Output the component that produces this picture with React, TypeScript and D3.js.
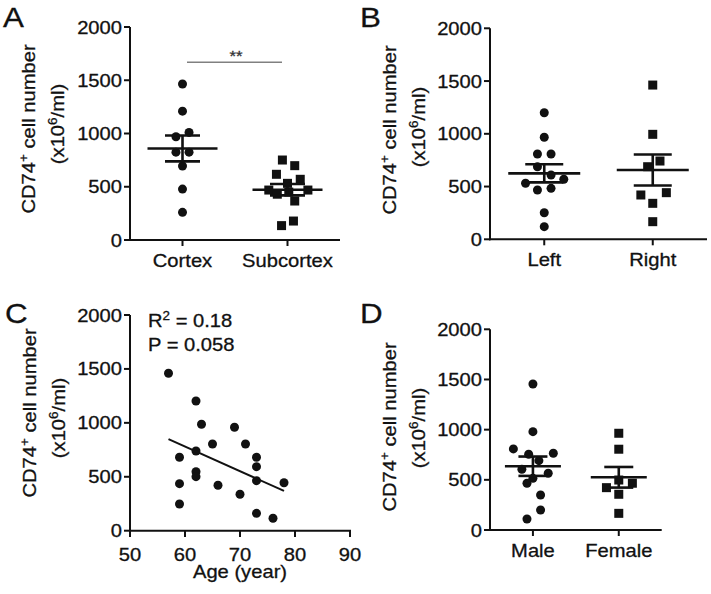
import React from 'react';
import * as d3 from 'd3';

const FONT = '"Liberation Sans", Arial, Helvetica, sans-serif';
const INK = '#111';

// ---------- data ----------
const yTicks = [0, 500, 1000, 1500, 2000];
const ageTicks = [50, 60, 70, 80, 90];

const regionCategories = ['Cortex', 'Subcortex'];
const cortexValues = [1465, 1210, 970, 1010, 825, 825, 695, 478, 260];
const cortexOffsets = [0, 0, -0.77, 0.77, -0.77, 0.77, 0, 0, 0];
const subcortexValues = [751, 698, 617, 570, 532, 469, 430, 450, 469, 366, 178, 135];
const subcortexOffsets = [-0.6, 0.85, -1.3, 1.5, 0, -2.2, -1.2, 0.15, 2.4, 0.85, 0.7, -0.7];

const sideCategories = ['Left', 'Right'];
const leftValues = [1200, 967, 808, 808, 688, 609, 531, 569, 467, 483, 252, 120];
const leftOffsets = [0, 0, -0.8, 0.8, -0.8, 0.8, -2.2, 2.3, -0.8, 0.8, 0, 0];
const rightValues = [1462, 995, 742, 688, 420, 442, 341, 167];
const rightOffsets = [0, 0, 0.85, -0.6, -1.4, 1.6, 0, 0];

const sexCategories = ['Male', 'Female'];
const maleValues = [1455, 980, 808, 755, 765, 691, 605, 565, 515, 466, 349, 199, 110];
const maleOffsets = [0, 0, -2.3, -0.5, 2.4, 0.7, -1.3, 1.8, 0, -0.7, 0.9, 0.9, -0.7];
const femaleValues = [964, 805, 498, 466, 422, 356, 166];
const femaleOffsets = [0, 0, 0, 1.6, -1.45, 0, 0];

const ages = [57, 62, 63, 69, 65, 71, 59, 62, 73, 73, 62, 62, 73, 78, 59, 66, 70, 59, 73, 76];
const ageCells = [1460, 1203, 987, 959, 804, 804, 681, 739, 681, 594, 547, 501, 464, 445, 436, 421, 338, 248, 161, 115];

const SYM = 9;
const SX = 1.12;

function T({ x, y, size = 18, anchor = 'start', rot = 0, fill = INK, children }: any) {
  return (
    <text
      transform={`translate(${x},${y}) rotate(${rot}) scale(${SX},1)`}
      fontSize={size}
      textAnchor={anchor}
      fill={fill}
      stroke={fill}
      strokeWidth={0.3}
      fontFamily={FONT}
    >
      {children}
    </text>
  );
}

function YTitle({ x1, c1, x2, c2 }: any) {
  return (
    <g>
      <T x={x1} y={c1} rot={-90} anchor="middle">
        CD74<tspan dy={-7} fontSize={12}>+</tspan>
        <tspan dy={7}> cell number</tspan>
      </T>
      <T x={x2} y={c2} rot={-90} anchor="middle">
        (x10<tspan dy={-7} fontSize={12}>6</tspan>
        <tspan dy={7}>/ml)</tspan>
      </T>
    </g>
  );
}

function YAxis({ y, x0 }: any) {
  const [r0, r1] = y.range();
  return (
    <g>
      <line x1={x0} x2={x0} y1={r0 + 1} y2={r1} stroke={INK} strokeWidth={2} />
      {yTicks.map((t) => (
        <g key={t}>
          <line x1={x0 - 6} x2={x0} y1={y(t)} y2={y(t)} stroke={INK} strokeWidth={2} />
          <T x={x0 - 8} y={y(t) + 6.5} anchor="end">{t}</T>
        </g>
      ))}
    </g>
  );
}

function Symbol({ cx, cy, shape }: any) {
  if (shape === 'square')
    return <rect x={cx - SYM / 2} y={cy - SYM / 2} width={SYM} height={SYM} fill={INK} />;
  return <circle cx={cx} cy={cy} r={SYM / 2} fill={INK} />;
}

function DotPanel({ cfg, cats, groups }: any) {
  const x = d3.scalePoint().domain(cats).range([cfg.x0, cfg.x1]).padding(0.5);
  const y = d3.scaleLinear().domain([0, 2000]).range([cfg.y0, cfg.yTop]);
  return (
    <g>
      <YAxis y={y} x0={cfg.x0} />
      <line x1={cfg.x0 - 1} x2={cfg.x1} y1={cfg.y0} y2={cfg.y0} stroke={INK} strokeWidth={2} />
      {cats.map((c: string) => (
        <g key={c}>
          <line x1={x(c)} x2={x(c)} y1={cfg.y0} y2={cfg.y0 + 6} stroke={INK} strokeWidth={2} />
          <T x={x(c)} y={cfg.y0 + 26.7} anchor="middle">{c}</T>
        </g>
      ))}
      {groups.map((g: any, gi: number) => {
        const cx = x(cats[gi]) as number;
        const m = d3.mean(g.values) as number;
        const sem = (d3.deviation(g.values) as number) / Math.sqrt(g.values.length);
        return (
          <g key={gi}>
            {g.values.map((v: number, i: number) => (
              <Symbol key={i} cx={cx + g.offsets[i] * 8.5} cy={y(v)} shape={g.shape} />
            ))}
            <line x1={cx - cfg.meanHalf} x2={cx + cfg.meanHalf} y1={y(m)} y2={y(m)} stroke={INK} strokeWidth={2.6} />
            <line x1={cx} x2={cx} y1={y(m + sem)} y2={y(m - sem)} stroke={INK} strokeWidth={2.6} />
            <line x1={cx - cfg.capHalf} x2={cx + cfg.capHalf} y1={y(m + sem)} y2={y(m + sem)} stroke={INK} strokeWidth={2.6} />
            <line x1={cx - cfg.capHalf} x2={cx + cfg.capHalf} y1={y(m - sem)} y2={y(m - sem)} stroke={INK} strokeWidth={2.6} />
          </g>
        );
      })}
    </g>
  );
}

function ScatterPanel() {
  const x = d3.scaleLinear().domain([50, 90]).range([130, 350]);
  const y = d3.scaleLinear().domain([0, 2000]).range([530.7, 315]);
  const mx = d3.mean(ages) as number;
  const my = d3.mean(ageCells) as number;
  const sxy = d3.sum(ages, (a, i) => (a - mx) * (ageCells[i] - my));
  const sxx = d3.sum(ages, (a) => (a - mx) * (a - mx));
  const slope = sxy / sxx;
  const fit = (a: number) => my + slope * (a - mx);
  const [amin, amax] = d3.extent(ages) as [number, number];
  const line = d3.line<number>().x((a) => x(a)).y((a) => y(fit(a)));
  return (
    <g>
      <YAxis y={y} x0={130} />
      <line x1={129} x2={351} y1={530.7} y2={530.7} stroke={INK} strokeWidth={2} />
      {ageTicks.map((t) => (
        <g key={t}>
          <line x1={x(t)} x2={x(t)} y1={530.7} y2={537} stroke={INK} strokeWidth={2} />
          <T x={x(t)} y={560.7} anchor="middle">{t}</T>
        </g>
      ))}
      <T x={240} y={578} anchor="middle">Age (year)</T>
      {ages.map((a, i) => (
        <circle key={i} cx={x(a)} cy={y(ageCells[i])} r={SYM / 2} fill={INK} />
      ))}
      <path d={line([amin, amax]) as string} stroke={INK} strokeWidth={2} fill="none" />
      <T x={148} y={327.3}>
        R<tspan dy={-7} fontSize={12}>2</tspan>
        <tspan dy={7}> = 0.18</tspan>
      </T>
      <T x={148} y={351}>P = 0.058</T>
    </g>
  );
}

export default function App() {
  return (
    <svg
      width={711}
      height={594}
      style={{ position: 'absolute', left: 0, top: 0, background: '#fff' }}
    >
      <rect width={711} height={594} fill="#fff" />
      {/* Panel A */}
      <T x={3} y={27} size={28}>A</T>
      <YTitle x1={35} c1={129} x2={64} c2={124} />
      <DotPanel
        cfg={{ x0: 130, x1: 340, y0: 240, yTop: 27, meanHalf: 35, capHalf: 17.5 }}
        cats={regionCategories}
        groups={[
          { values: cortexValues, offsets: cortexOffsets, shape: 'circle' },
          { values: subcortexValues, offsets: subcortexOffsets, shape: 'square' },
        ]}
      />
      <line x1={187} x2={282} y1={62.3} y2={62.3} stroke="#808080" strokeWidth={1.5} />
      <T x={236} y={61} size={15} anchor="middle" fill="#333">**</T>

      {/* Panel B */}
      <T x={360} y={26.7} size={28}>B</T>
      <YTitle x1={396} c1={130} x2={425} c2={127} />
      <DotPanel
        cfg={{ x0: 490, x1: 707, y0: 239.3, yTop: 28.3, meanHalf: 36, capHalf: 19 }}
        cats={sideCategories}
        groups={[
          { values: leftValues, offsets: leftOffsets, shape: 'circle' },
          { values: rightValues, offsets: rightOffsets, shape: 'square' },
        ]}
      />

      {/* Panel C */}
      <T x={5} y={323.3} size={28}>C</T>
      <YTitle x1={36} c1={413} x2={65} c2={418} />
      <ScatterPanel />

      {/* Panel D */}
      <T x={360} y={323.3} size={28}>D</T>
      <YTitle x1={396} c1={427} x2={425} c2={428} />
      <DotPanel
        cfg={{ x0: 490, x1: 661.7, y0: 530, yTop: 329.3, meanHalf: 28, capHalf: 14.5 }}
        cats={sexCategories}
        groups={[
          { values: maleValues, offsets: maleOffsets, shape: 'circle' },
          { values: femaleValues, offsets: femaleOffsets, shape: 'square' },
        ]}
      />
    </svg>
  );
}
